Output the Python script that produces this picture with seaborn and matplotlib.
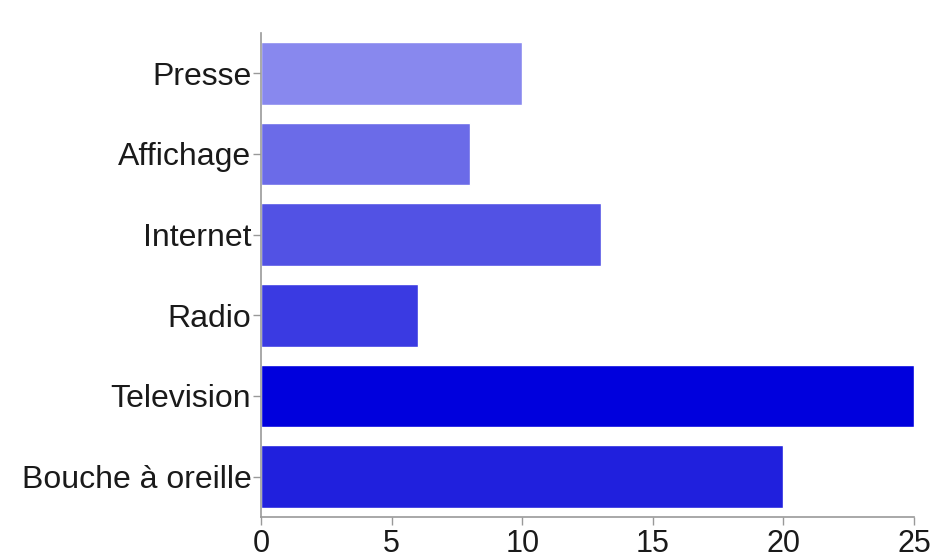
import pandas as pd
import numpy as np
import matplotlib
matplotlib.use('Agg')
import matplotlib.pyplot as plt
import seaborn as sns

medias = ['Presse', 'Affichage', 'Internet', 'Radio', 'Television', 'Bouche à oreille']
reponses = [10, 8, 13, 6, 25, 20]
couleurs = ['#8888ee', '#6b6be8', '#5252e4', '#3a3ae2', '#0000dd', '#2020dd']

df = pd.DataFrame({'media': medias, 'n': reponses})

sns.set_style('white')
plt.rcParams['font.family'] = ['Liberation Sans', 'DejaVu Sans']

fig = plt.figure(figsize=(9.37, 5.6), dpi=100)
ax = fig.add_axes([0.2786, 0.0768, 0.6969, 0.8643])

sns.barplot(data=df, y='media', x='n', hue='media', palette=couleurs,
            order=medias, hue_order=medias, legend=False, width=0.78,
            saturation=1, ax=ax)

ax.set_xlim(0, 25)
ax.set_ylim(len(medias) - 0.5, -0.5)
ax.set_xticks([0, 5, 10, 15, 20, 25])
ax.set_xlabel('')
ax.set_ylabel('')

for s in ['top', 'right']:
    ax.spines[s].set_visible(False)
for s in ['left', 'bottom']:
    ax.spines[s].set_color('#999999')
    ax.spines[s].set_linewidth(1.2)
ax.tick_params(axis='both', which='major', length=6, width=1, color='#999999',
               labelsize=23, labelcolor='#1a1a1a', left=True, bottom=True)
ax.tick_params(axis='y', pad=1)
ax.tick_params(axis='x', pad=3, labelsize=22)

plt.savefig('out.png', dpi=100)
